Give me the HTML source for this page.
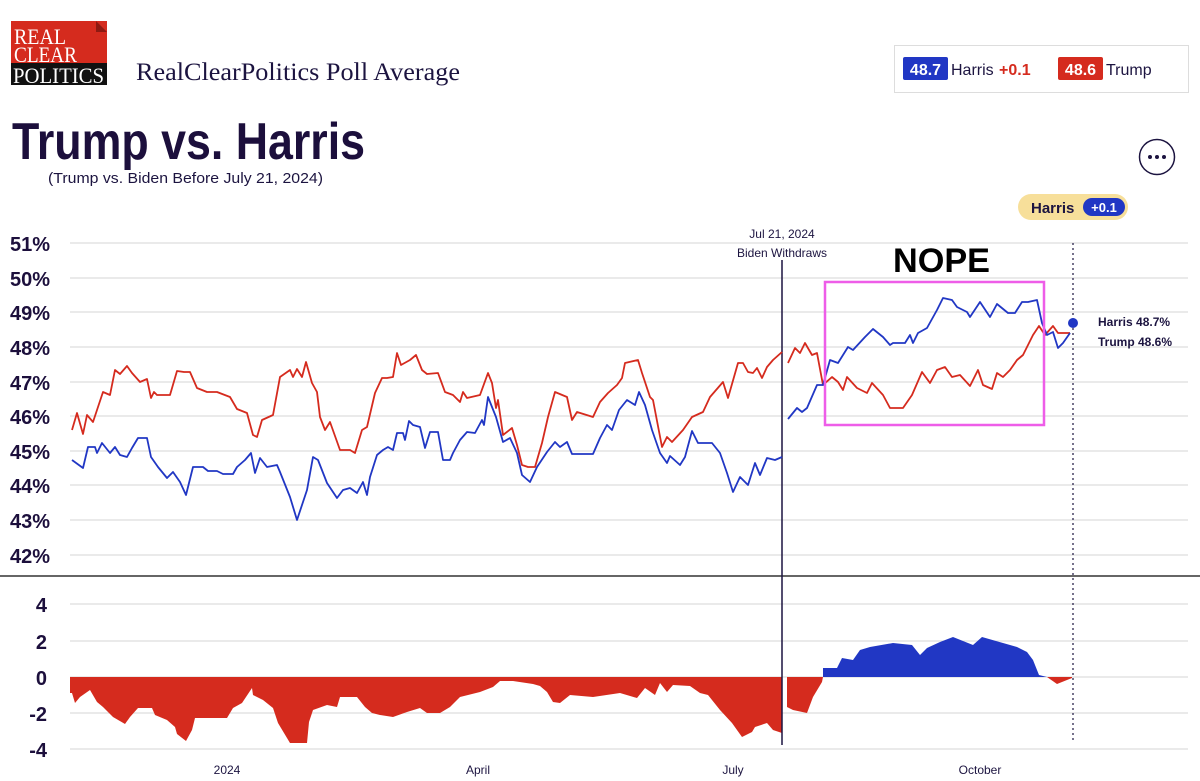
<!DOCTYPE html>
<html><head><meta charset="utf-8"><style>
html,body{margin:0;padding:0;background:#fff;}
svg{display:block;}
</style></head><body>
<svg width="1200" height="781" viewBox="0 0 1200 781" xmlns="http://www.w3.org/2000/svg" font-family="Liberation Sans, Arial, sans-serif">
<!-- logo -->
<rect x="11" y="21" width="96" height="43" fill="#d52b1e"/>
<polygon points="96,21 107,32 96,32" fill="#8e1a12"/>
<rect x="11" y="63" width="96" height="22" fill="#111"/>
<text x="14" y="44" font-family="Liberation Serif, serif" font-size="22" fill="#fff" textLength="52" lengthAdjust="spacingAndGlyphs">REAL</text>
<text x="14" y="62" font-family="Liberation Serif, serif" font-size="22" fill="#fff" textLength="63" lengthAdjust="spacingAndGlyphs">CLEAR</text>
<text x="13" y="83" font-family="Liberation Serif, serif" font-size="22" fill="#fff" textLength="91" lengthAdjust="spacingAndGlyphs">POLITICS</text>
<text x="136" y="80" font-family="Liberation Serif, serif" font-size="25" fill="#1c1440" textLength="324" lengthAdjust="spacingAndGlyphs">RealClearPolitics Poll Average</text>
<!-- legend -->
<rect x="894.5" y="45.5" width="294" height="47" fill="#fff" stroke="#ddd"/>
<rect x="903" y="57" width="45" height="23" rx="2" fill="#2137c4"/>
<text x="925.5" y="75" font-size="16" font-weight="bold" fill="#fff" text-anchor="middle">48.7</text>
<text x="951" y="75" font-size="16" fill="#1c1440">Harris</text>
<text x="999" y="75" font-size="16" font-weight="bold" fill="#d52b1e">+0.1</text>
<rect x="1058" y="57" width="45" height="23" rx="2" fill="#d52b1e"/>
<text x="1080.5" y="75" font-size="16" font-weight="bold" fill="#fff" text-anchor="middle">48.6</text>
<text x="1106" y="75" font-size="16" fill="#1c1440">Trump</text>
<!-- title -->
<text x="12" y="159" font-size="52" font-weight="bold" fill="#1c0f3c" textLength="353" lengthAdjust="spacingAndGlyphs">Trump vs. Harris</text>
<text x="48" y="183" font-size="15" fill="#1c1440" textLength="275" lengthAdjust="spacingAndGlyphs">(Trump vs. Biden Before July 21, 2024)</text>
<circle cx="1157" cy="157" r="17.5" fill="#fff" stroke="#1c1440" stroke-width="1.5"/>
<circle cx="1150" cy="157" r="2" fill="#1c1440"/><circle cx="1157" cy="157" r="2" fill="#1c1440"/><circle cx="1164" cy="157" r="2" fill="#1c1440"/>
<rect x="1018" y="194" width="110" height="26" rx="13" fill="#f7df9a"/>
<text x="1031" y="213" font-size="15" font-weight="bold" fill="#1c1440">Harris</text>
<rect x="1083" y="198" width="42" height="18" rx="9" fill="#2137c4"/>
<text x="1104" y="212" font-size="13" font-weight="bold" fill="#fff" text-anchor="middle">+0.1</text>
<!-- grid -->
<g stroke="#ddd" stroke-width="1.2">
<line x1="70" x2="1188" y1="243" y2="243"/><line x1="70" x2="1188" y1="278" y2="278"/><line x1="70" x2="1188" y1="312" y2="312"/><line x1="70" x2="1188" y1="347" y2="347"/><line x1="70" x2="1188" y1="382" y2="382"/><line x1="70" x2="1188" y1="416" y2="416"/><line x1="70" x2="1188" y1="451" y2="451"/><line x1="70" x2="1188" y1="485" y2="485"/><line x1="70" x2="1188" y1="520" y2="520"/><line x1="70" x2="1188" y1="555" y2="555"/>
<line x1="70" x2="1188" y1="604" y2="604"/><line x1="70" x2="1188" y1="641" y2="641"/><line x1="70" x2="1188" y1="677" y2="677"/><line x1="70" x2="1188" y1="713" y2="713"/><line x1="70" x2="1188" y1="749" y2="749"/>
</g>
<g font-size="20" font-weight="bold" fill="#1c0f3c">
<text x="10" y="251">51%</text><text x="10" y="286">50%</text><text x="10" y="320">49%</text><text x="10" y="355">48%</text><text x="10" y="390">47%</text><text x="10" y="424">46%</text><text x="10" y="459">45%</text><text x="10" y="493">44%</text><text x="10" y="528">43%</text><text x="10" y="563">42%</text>
</g>
<g font-size="20" font-weight="bold" fill="#1c0f3c" text-anchor="end">
<text x="47" y="612">4</text><text x="47" y="649">2</text><text x="47" y="685">0</text><text x="47" y="721">-2</text><text x="47" y="757">-4</text>
</g>
<line x1="0" x2="1200" y1="576" y2="576" stroke="#666" stroke-width="2"/>
<!-- bars -->
<polygon fill="#d52b1e" points="70,677 70,693 72,693 75,703 80,697 90,690 97,702 103,707 113,717 125,724 130,717 138,708 152,708 155,715 167,720 175,727 177,734 186,741 192,730 195,718 227,718 233,708 242,703 252,688 253,695 263,700 273,708 278,723 290,743 307,743 309,722 313,710 327,705 337,707 340,697 357,697 365,707 372,713 380,715 393,717 407,712 420,708 427,713 440,713 450,707 460,697 480,692 493,687 500,681 513,681 533,684 540,686 547,692 553,702 560,703 570,695 593,697 620,693 637,698 645,688 655,695 660,683 667,692 673,685 690,686 700,693 708,695 720,710 732,723 742,737 752,732 755,727 767,723 773,730 782,733 782,677"/>
<polygon fill="#d52b1e" points="787,677 787,707 793,710 807,713 813,697 822,682 823,677"/>
<polygon fill="#2137c4" points="823,677 823,668 837,668 842,658 853,660 860,650 870,647 893,643 912,645 920,655 927,648 940,642 953,637 973,645 982,637 1003,643 1017,647 1027,652 1033,660 1039,675 1047,677"/>
<polygon fill="#d52b1e" points="1047,677 1057,684 1072,678 1072,677"/>
<!-- vertical lines -->
<line x1="782" x2="782" y1="260" y2="745" stroke="#1c1440" stroke-width="1.5"/>
<line x1="1073" x2="1073" y1="243" y2="742" stroke="#1c1440" stroke-width="1.2" stroke-dasharray="2,3"/>
<text x="782" y="238" font-size="12" fill="#1c1440" text-anchor="middle">Jul 21, 2024</text>
<text x="782" y="257" font-size="12" fill="#1c1440" text-anchor="middle">Biden Withdraws</text>
<!-- lines -->
<g fill="none" stroke-width="1.8" stroke-linejoin="round">
<polyline stroke="#d52b1e" points="72,430 77,413 83,434 87,415 93,422 103,392 110,395 115,370 120,374 127,366 132,373 140,382 147,379 151,398 154,392 157,395 170,395 177,371 184,372 190,372 197,388 207,392 217,392 230,397 237,409 247,413 253,435 257,437 262,420 273,415 280,377 290,370 293,377 297,369 302,377 306,362 312,383 317,392 320,417 325,430 330,422 340,450 350,450 355,453 362,430 367,427 375,393 382,378 387,378 393,377 397,353 401,365 410,360 416,355 422,370 427,374 438,373 445,392 453,395 460,402 463,392 467,398 480,395 488,373 492,383 496,408 498,400 503,435 512,428 517,445 522,465 528,467 535,467 542,443 548,417 555,392 567,397 572,420 577,412 593,417 600,402 608,393 617,385 622,378 625,363 638,360 642,373 650,397 653,400 662,447 667,437 672,442 683,430 692,417 703,412 710,397 723,382 728,398 738,363 743,363 748,372 753,373 757,368 762,378 767,367 773,360 782,352"/>
<polyline stroke="#d52b1e" points="788,363 795,348 800,353 805,343 812,355 817,353 823,385 832,377 838,382 843,390 847,377 857,388 867,393 872,383 883,395 890,408 898,408 903,408 912,395 922,372 930,383 937,370 945,367 952,377 960,375 970,386 978,370 983,385 992,389 997,373 1003,377 1010,370 1017,360 1023,355 1033,335 1039,326 1045,335 1053,326 1058,333 1070,333"/>
<polyline stroke="#2137c4" points="72,460 83,468 88,447 95,447 97,453 102,443 110,453 115,447 120,455 127,457 132,448 138,438 147,438 151,457 158,467 167,478 173,472 180,482 186,495 193,467 203,467 208,471 217,471 223,474 233,474 237,467 245,460 251,453 255,473 260,458 267,467 277,465 280,472 290,497 297,520 307,490 313,457 318,460 327,483 337,498 343,490 350,488 357,493 363,482 367,495 370,477 377,455 383,450 388,447 393,450 397,433 403,433 405,440 409,421 413,425 420,427 425,448 430,432 438,432 443,460 450,460 453,453 460,440 467,432 475,433 482,420 484,425 488,397 496,417 503,442 510,438 517,453 522,475 530,482 537,467 547,452 555,442 560,447 567,442 572,454 593,454 600,438 607,425 612,430 619,410 627,400 635,405 639,392 645,405 652,430 660,453 667,463 670,456 680,465 685,457 692,431 698,443 712,443 720,453 727,473 733,492 740,477 748,485 755,463 760,475 767,458 775,460 782,457"/>
<polyline stroke="#2137c4" points="788,419 797,408 802,412 807,408 817,385 823,385 830,360 838,363 848,347 853,350 865,337 873,329 883,337 890,345 893,343 905,343 910,335 913,343 918,333 927,328 937,310 943,298 952,300 957,307 967,312 970,317 980,302 990,317 997,304 1008,313 1015,313 1022,302 1028,302 1037,300 1042,323 1047,335 1053,332 1058,348 1063,343 1070,333"/>
</g>
<circle cx="1073" cy="323" r="5" fill="#2137c4"/>
<text x="1098" y="326" font-size="12" font-weight="bold" fill="#1c1440">Harris 48.7%</text>
<text x="1098" y="346" font-size="12" font-weight="bold" fill="#1c1440">Trump 48.6%</text>
<!-- annotation -->
<rect x="825" y="282" width="219" height="143" fill="none" stroke="#ee5de8" stroke-width="2.5"/>
<text x="893" y="272" font-size="34" font-weight="bold" fill="#000" textLength="97" lengthAdjust="spacingAndGlyphs">NOPE</text>
<!-- x labels -->
<g font-size="12" fill="#1c1440" text-anchor="middle">
<text x="227" y="774">2024</text><text x="478" y="774">April</text><text x="733" y="774">July</text><text x="980" y="774">October</text>
</g>
</svg>
</body></html>
